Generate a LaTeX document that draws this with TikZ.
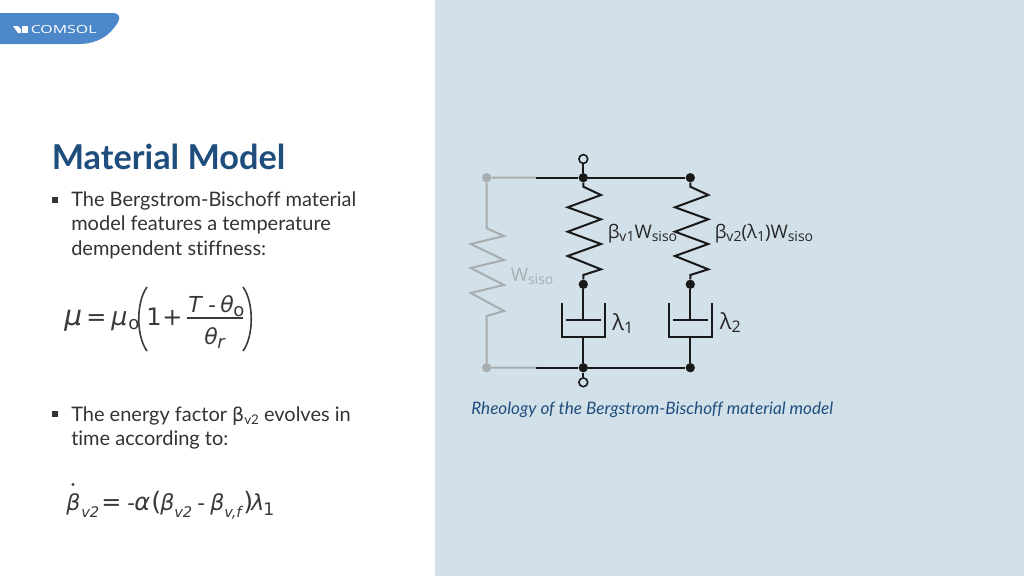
\documentclass[tikz,border=0pt]{standalone}
\usepackage{fontspec}
\setmainfont{Lato}[Ligatures=NoCommon]
\newfontfamily\djv{DejaVu Sans}
\newfontfamily\opns{Open Sans}
\definecolor{panel}{HTML}{D2E0EA}
\definecolor{logoblue}{HTML}{4C87C9}
\definecolor{titleblue}{HTML}{1F4E7C}
\definecolor{bodyt}{HTML}{333333}
\definecolor{greyw}{HTML}{A8ADB0}
\definecolor{captionb}{HTML}{1F4E7C}
\definecolor{eqn}{HTML}{3A3A3A}
\tikzset{
 x=0.75pt,y=-0.75pt,
 wire/.style={line width=1.5pt,black!90,line join=miter},
 gwire/.style={line width=1.5pt,greyw},
 dot/.style={circle,fill=black!90,inner sep=0,minimum size=7pt},
 gdot/.style={circle,fill=greyw,inner sep=0,minimum size=7pt},
 term/.style={circle,draw=black!90,line width=1.2pt,fill=panel,inner sep=0,minimum size=6.6pt},
 lab/.style={inner sep=0,anchor=base west,font=\opns\fontsize{14}{16}\selectfont,text=black!85},
 lamb/.style={lab,font=\opns\fontsize{16.5}{18}\selectfont},
 glab/.style={lab,text=greyw},
 body/.style={inner sep=0,anchor=base west,font=\fontsize{15}{18}\selectfont,text=bodyt},
 bul/.style={rectangle,fill=bodyt,inner sep=0,minimum size=4pt},
 eq/.style={inner sep=0,anchor=base west,text=eqn},
 eqm/.style={eq,font=\djv\itshape\fontsize{18}{20}\selectfont},
 eqo/.style={eq,font=\djv\fontsize{18}{20}\selectfont},
 eqf/.style={eq,font=\djv\itshape\fontsize{16.5}{20}\selectfont},
 eqsub/.style={eq,font=\djv\itshape\fontsize{11}{13}\selectfont},
}
\newcommand{\sbs}[1]{\raisebox{-2.8pt}{\fontsize{10.5}{12}\selectfont #1}}
\newcommand{\lbs}[1]{\raisebox{-2.4pt}{\fontsize{12}{14}\selectfont #1}}
\begin{document}
\begin{tikzpicture}
\useasboundingbox (0,0) rectangle (1024,576);
\fill[white] (0,0) rectangle (1024,576);
\fill[panel] (435,0) rectangle (1024,576);
% logo
\fill[logoblue] (0,13) -- (112,13) .. controls (119,13) and (121,17) .. (118,22) .. controls (110,36) and (97,44) .. (78,44) -- (0,44) -- cycle;
\fill[white] (13,26) -- (18,26) -- (21,29) -- (21,33) -- (18,33) -- cycle;
\fill[white] (22,25.5) -- (27.5,25.5) -- (27.5,33) -- (22,33) -- cycle;
\node[inner sep=0,anchor=base west,text=white] (logo) at (30.5,33) {\scalebox{1.42}[1]{\opns\fontsize{8.4}{10}\selectfont COMSOL}};
% left text
\node[inner sep=0,anchor=base west,text=titleblue,font=\bfseries\fontsize{25.7}{30}\selectfont] (title) at (51.5,169) {Material Model};
\node[bul] (b1) at (55,200) {};
\node[body] (t1) at (71,206) {The Bergstrom-Bischoff material};
\node[body] (t2) at (71,230) {model features a temperature};
\node[body] (t3) at (71,255) {dempendent stiffness:};
\node[bul] (b2) at (55,414) {};
\node[body] (t4) at (71,421) {The energy factor {\djv\fontsize{14.2}{17}\selectfont β}\raisebox{-2.6pt}{\fontsize{10}{11}\selectfont v2} evolves in};
\node[body] (t5) at (71,445) {time according to:};
% equation 1
\node[eqm,font=\djv\itshape\fontsize{21}{22}\selectfont] (m1) at (64,325) {μ};
\node[eqo] (m2) at (86,325) {=};
\node[eqm,font=\djv\itshape\fontsize{19}{22}\selectfont] (m3) at (111,325) {μ};
\node[eq,font=\djv\fontsize{13.5}{15}\selectfont] (m3s) at (128,329) {o};
\node[eqo] (m4) at (146,325) {1};
\node[eqo] (m5) at (162,325) {+};
\draw[eqn,line width=0.9pt] (187,318) -- (243,318);
\node[eqf] (m6) at (188,312) {T};
\node[eq,font=\djv\fontsize{16}{18}\selectfont] (m6b) at (208,312) {-};
\node[eqf] (m6c) at (220,312) {θ};
\node[eq,font=\djv\fontsize{13.5}{15}\selectfont] (m6d) at (233,316) {o};
\node[eqf] (m7) at (204,344) {θ};
\node[eq,font=\djv\itshape\fontsize{13.5}{15}\selectfont] (m7b) at (217,348) {r};
\draw[eqn,line width=1.2pt] (147,287) .. controls (136,302) and (136,336) .. (147,351);
\draw[eqn,line width=1.2pt] (243,287) .. controls (254,302) and (254,336) .. (243,351);
% equation 2
\node[eqf] (n1) at (66,510) {β};
\node[eqsub] (n1s) at (81,517) {v2};
\fill[eqn] (73,484.5) circle (1.6);
\node[eqo] (n2) at (101,510) {=};
\node[eq,font=\djv\fontsize{16}{18}\selectfont] (n3) at (127,510) {-};
\node[eqm] (n3a) at (134,510) {α};
\node[eq,font=\djv\fontsize{19}{20}\selectfont] (n3b) at (151,510) {(};
\node[eqf] (n4) at (160,510) {β};
\node[eqsub] (n4s) at (174,517) {v2};
\node[eq,font=\djv\fontsize{16}{18}\selectfont] (n5) at (197,510) {-};
\node[eqf] (n6) at (210,510) {β};
\node[eqsub] (n6s) at (224,517) {v,f};
\node[eq,font=\djv\fontsize{19}{20}\selectfont] (n7) at (243,510) {)};
\node[eqf] (n8) at (251,510) {λ};
\node[eq,font=\djv\fontsize{13}{15}\selectfont] (n8s) at (263,515) {1};
% rheology junctions
\node[term] (top) at (583.3,159) {};
\node[term] (bot) at (583.3,382.3) {};
\node[gdot] (gt) at (486.7,177.7) {};
\node[gdot] (gb) at (486.7,367.7) {};
\coordinate (st) at (536,177.7);
\coordinate (sb) at (536,367.7);
\node[dot] (a1) at (583.3,177.7) {};
\node[dot] (a2) at (690.3,177.7) {};
\node[dot] (c1) at (583.3,284.3) {};
\node[dot] (c2) at (690.3,284.3) {};
\node[dot] (d1) at (583.3,367.7) {};
\node[dot] (d2) at (690.3,367.7) {};
\coordinate (p1) at (583.3,320.3);
\coordinate (p2) at (690.3,320.3);
\coordinate (k1) at (583.3,336.7);
\coordinate (k2) at (690.3,336.7);
% grey branch
\draw[gwire] (st) -- (gt) -- (486.7,228.3) -- (504,236) -- (470.7,244) -- (504,260) -- (470.7,268) -- (504,285) -- (470.7,293) -- (504,311) -- (486.7,316) -- (gb) -- (sb);
% black wires
\draw[wire] (st) -- (a1) -- (a2);
\draw[wire] (sb) -- (d1) -- (d2);
\draw[wire] (top) -- (a1);
\draw[wire] (bot) -- (d1);
\draw[wire] (a1) -- (583.3,186.7) -- (601,195) -- (567.7,207.3) -- (601,219.3) -- (567.7,231.7) -- (601,244) -- (567.7,256) -- (601,269.3) -- (583.3,275) -- (c1);
\draw[wire] (a2) -- (690.3,186.7) -- (708.3,195) -- (675,207.3) -- (708.3,219.3) -- (675,231.7) -- (708.3,244) -- (675,256) -- (708.3,269.3) -- (690.3,275) -- (c2);
\draw[wire] (c1) -- (p1);
\draw[wire] (c2) -- (p2);
\draw[wire] (566,320.3) -- (600.7,320.3);
\draw[wire] (673.3,320.3) -- (708,320.3);
\draw[wire] (562,303.3) -- (562,336.7) -- (604.7,336.7) -- (604.7,303.3);
\draw[wire] (669.3,303.3) -- (669.3,336.7) -- (712,336.7) -- (712,303.3);
\draw[wire] (k1) -- (d1);
\draw[wire] (k2) -- (d2);
% labels
\node[lab] (l1) at (607.5,238) {β\sbs{v1}W\sbs{siso}};
\node[lab] (l2) at (714.5,238) {β\sbs{v2}(λ\sbs{1})W\sbs{siso}};
\node[glab] (l3) at (510.5,281) {W\sbs{siso}};
\node[lamb] (l4) at (612,330) {λ\lbs{1}};
\node[lamb] (l5) at (719.5,329) {λ\lbs{2}};
\node[inner sep=0,anchor=base west,text=captionb,font=\itshape\fontsize{12.85}{15}\selectfont] (cap) at (471,414) {Rheology of the Bergstrom-Bischoff material model};
\end{tikzpicture}
\end{document}
